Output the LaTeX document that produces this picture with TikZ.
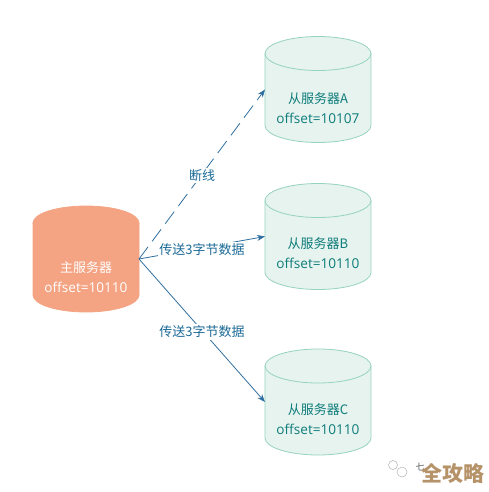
\documentclass[tikz,border=0pt]{standalone}
\usepackage{fontspec}
\setmainfont{Noto Sans CJK SC}
\newfontfamily\latinface{Open Sans}
\usetikzlibrary{arrows.meta}
\definecolor{slavefill}{HTML}{E6F3EE}
\definecolor{slaveline}{HTML}{96D3BC}
\definecolor{slavetext}{HTML}{0E7C7B}
\definecolor{masterfill}{HTML}{F4A383}
\definecolor{linkblue}{HTML}{2F6F9F}
\definecolor{labelblue}{HTML}{1B6A96}
\definecolor{markbrown}{HTML}{B59268}
\newcommand{\offs}[1]{{\latinface\fontsize{13.6}{20}\selectfont offset=#1}}
\tikzset{
  cylbox/.style={minimum width=106pt,minimum height=106pt,inner sep=0pt,outer sep=0pt},
  cyltext/.style={align=center,font=\fontsize{13}{20}\selectfont,inner sep=0pt},
  link/.style={linkblue,line width=0.8pt,-{Stealth[length=8pt,width=6pt]}},
  linklabel/.style={midway,fill=white,text=labelblue,font=\fontsize{13}{15}\selectfont,inner sep=1.5pt,yshift=-1.5pt},
}
% #1 name, #2 cx, #3 cy, #4 fill, #5 line
\newcommand{\cyl}[5]{%
  \node[cylbox] (#1) at (#2,#3) {};
  \fill[#4] (#2-53,#3-36) arc[start angle=180,end angle=360,x radius=53,y radius=17]
    -- (#2+53,#3+36) arc[start angle=0,end angle=180,x radius=53,y radius=17] -- cycle;
  \fill[#4] (#2-53,#3-36) arc[start angle=180,end angle=0,x radius=53,y radius=17] -- cycle;
  \draw[#5,line width=0.8pt] (#2-53,#3-36) arc[start angle=180,end angle=360,x radius=53,y radius=17]
    -- (#2+53,#3+36) arc[start angle=0,end angle=180,x radius=53,y radius=17] -- cycle;
  \draw[#5,line width=0.8pt] (#2-53,#3-36) arc[start angle=180,end angle=0,x radius=53,y radius=17];
}
\begin{document}
\begin{tikzpicture}[x=1pt,y=-1pt]
\useasboundingbox (0,0) rectangle (489,492);
\cyl{master}{86}{259}{masterfill}{masterfill}
\cyl{slaveA}{318}{89.5}{slavefill}{slaveline}
\cyl{slaveB}{318}{236.5}{slavefill}{slaveline}
\cyl{slaveC}{318}{402}{slavefill}{slaveline}
\node[cyltext,text=white] (mastertext) at (86,277) {主服务器\\\offs{10110}};
\node[cyltext,text=slavetext] (textA) at (318,108) {从服务器A\\\offs{10107}};
\node[cyltext,text=slavetext] (textB) at (318,253) {从服务器B\\\offs{10110}};
\node[cyltext,text=slavetext] (textC) at (318,419) {从服务器C\\\offs{10110}};
\draw[link,dash pattern=on 15pt off 7pt] (master.east) -- node[linklabel] (labA) {断线} (slaveA.west);
\draw[link] (master.east) -- node[linklabel] (labB) {传送3字节数据} (slaveB.west);
\draw[link] (master.east) -- node[linklabel] (labC) {传送3字节数据} (slaveC.west);
\draw[gray!60,line width=0.5pt] (393,465) circle (4.5) (402,472) circle (5);
\node[text=gray!70!black,font=\fontsize{9}{10}\selectfont,inner sep=0pt] (markA) at (420,467) {七};
\node[text=markbrown,font=\fontsize{21}{23}\bfseries\selectfont,inner sep=0pt] (mark) at (453,473) {全攻略};
\end{tikzpicture}
\end{document}
